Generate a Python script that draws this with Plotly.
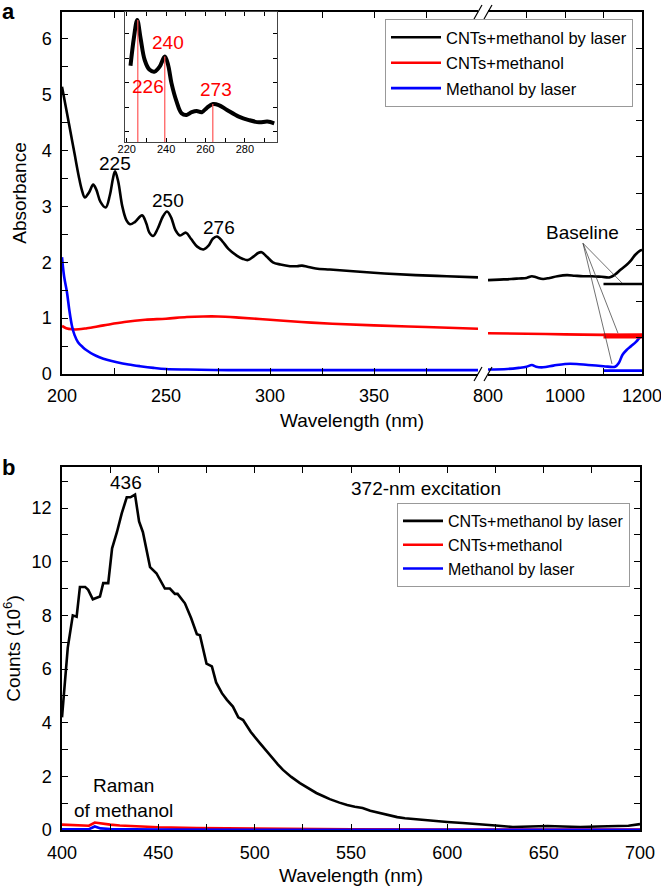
import plotly.graph_objects as go

# ---- panel a: absorbance, 200-400 nm part
a_wl_laser = [200, 202, 204, 206, 208, 209.5, 211, 213, 215, 216.5, 218.5, 221, 223, 224.5, 225.5, 227,
              229, 231, 232.7, 235, 238.5, 240.5, 242, 243.8, 246, 248.5, 250.5, 252.5, 254.5, 256.7,
              259.6, 262, 265, 268, 270.5, 272.5, 274.5, 277, 280, 284, 287, 289.4, 292, 294.5, 296,
              298.5, 301.4, 305, 309.6, 313, 315.4, 318, 322, 328.8, 340, 355, 370, 385, 400]
a_abs_laser = [5.14, 4.75, 4.35, 3.95, 3.55, 3.3, 3.16, 3.25, 3.39, 3.3, 3.08, 2.98, 3.2, 3.5, 3.63, 3.45,
               3.0, 2.75, 2.68, 2.72, 2.84, 2.7, 2.53, 2.47, 2.6, 2.82, 2.91, 2.8, 2.58, 2.48,
               2.53, 2.42, 2.28, 2.23, 2.3, 2.42, 2.46, 2.38, 2.24, 2.12, 2.06, 2.04, 2.1, 2.17, 2.18,
               2.1, 2.0, 1.96, 1.93, 1.93, 1.94, 1.92, 1.89, 1.87, 1.84, 1.80, 1.77, 1.75, 1.73]
a_wl_cnt = [200, 202, 205, 208, 212, 220, 230, 240, 250, 260, 268, 275, 285, 300, 315, 330, 350, 375, 400]
a_abs_cnt = [0.86, 0.82, 0.80, 0.80, 0.82, 0.87, 0.93, 0.97, 0.99, 1.02, 1.03, 1.03, 1.01, 0.97, 0.93,
             0.90, 0.87, 0.84, 0.81]
a_wl_meth = [200, 201, 202.4, 203.5, 204.8, 206, 207.7, 210, 212, 215, 218, 222, 226.4, 232, 237.5, 244,
             250, 260, 280, 300, 350, 400]
a_abs_meth = [2.09, 1.75, 1.46, 1.15, 0.86, 0.70, 0.57, 0.48, 0.42, 0.35, 0.30, 0.25, 0.21, 0.17, 0.14,
              0.11, 0.09, 0.08, 0.07, 0.07, 0.07, 0.07]

# ---- panel a: 800-1200 nm part
a_wl_laser_ir = [800, 830, 860, 880, 900, 914, 925, 943, 960, 980, 1005, 1025, 1047, 1070, 1095, 1117,
                 1130, 1145, 1161, 1172, 1182, 1195, 1200]
a_abs_laser_ir = [1.68, 1.69, 1.70, 1.71, 1.72, 1.75, 1.73, 1.70, 1.72, 1.75, 1.77, 1.76, 1.75, 1.75,
                  1.74, 1.73, 1.78, 1.87, 1.96, 2.04, 2.13, 2.21, 2.22]
a_wl_cnt_ir = [800, 900, 1000, 1100, 1200]
a_abs_cnt_ir = [0.73, 0.72, 0.71, 0.70, 0.70]
a_wl_meth_ir = [800, 850, 880, 900, 914, 925, 943, 970, 1000, 1030, 1060, 1100, 1130, 1140, 1149, 1160,
                1172, 1185, 1195, 1200]
a_abs_meth_ir = [0.08, 0.09, 0.11, 0.13, 0.16, 0.13, 0.12, 0.15, 0.18, 0.18, 0.16, 0.14, 0.13, 0.2,
                 0.34, 0.43, 0.5, 0.58, 0.66, 0.68]

# baselines
base_wl = [1100, 1200]
base_laser = [1.61, 1.61]
base_cnt = [0.68, 0.68]
base_meth = [0.06, 0.06]

# ---- inset
ins_wl = [221.9, 223.6, 225.3, 227, 229.1, 231.6, 234.2, 236.7, 239.3, 241, 242.7, 245.3, 247.8,
          250.4, 253, 255.5, 258.1, 260.7, 263.8, 266.7, 270.9, 276.9, 282, 287.2, 291.4, 294.9]
ins_abs = [3.69, 4.81, 5.55, 4.81, 3.92, 3.52, 3.45, 3.65, 4.06, 3.72, 2.98, 2.23, 1.76,
           1.69, 1.80, 1.85, 1.80, 1.98, 2.13, 2.09, 1.89, 1.62, 1.48, 1.39, 1.42, 1.35]
ins_peak_wl = [225.6, 239.3, 263.7]
ins_peak_abs = [5.55, 4.06, 2.13]
ins_labels = ["226", "240", "273"]
ins_label_x = [230.8, 240.7, 265.5]
ins_label_y = [2.84, 4.64, 2.74]

# ---- panel b: PL
b_wl_laser = [400, 403, 405.6, 407.6, 409.3, 412, 413.6, 416, 419.7, 421.4, 424, 426, 428.5, 431,
              433.6, 435.5, 437.9, 440, 442, 445.7, 449, 453.4, 456, 458.6, 460, 463.8, 467, 470,
              471.6, 473, 475, 477.8, 480, 483, 485.6, 488.7, 491.5, 494, 498, 502.7, 506, 509.5,
              512, 514.7, 519, 523.5, 528, 532, 536, 539, 544, 548, 552, 556, 560, 565, 570, 574,
              578, 582, 590, 600, 608, 617, 625, 634, 643, 652, 660, 669, 678, 686, 694, 700]
b_cnt_laser = [4.2, 6.8, 8.0, 7.95, 9.06, 9.06, 8.95, 8.6, 8.7, 9.2, 9.2, 10.5, 11.1, 11.8,
               12.4, 12.4, 12.5, 11.5, 11.1, 9.8, 9.57, 9.0, 9.0, 8.8, 8.8, 8.45, 7.9, 7.3,
               7.26, 6.8, 6.2, 6.1, 5.5, 5.1, 4.85, 4.6, 4.2, 4.1, 3.65, 3.24, 2.95, 2.68,
               2.45, 2.24, 1.98, 1.75, 1.55, 1.38, 1.25, 1.15, 1.02, 0.93, 0.87, 0.82, 0.72, 0.63, 0.55, 0.48,
               0.44, 0.41, 0.35, 0.3, 0.26, 0.22, 0.17, 0.11, 0.13, 0.15, 0.13, 0.11, 0.13, 0.15, 0.16, 0.22]
b_wl_cnt = [400, 405, 410, 414, 417, 420, 425, 430, 440, 450, 470, 500, 550, 600, 700]
b_cnt_cnt = [0.20, 0.19, 0.17, 0.16, 0.28, 0.24, 0.2, 0.17, 0.13, 0.1, 0.07, 0.05, 0.03, 0.02, 0.02]
b_wl_meth = [400, 410, 414, 417, 420, 425, 450, 500, 700]
b_cnt_meth = [0.03, 0.03, 0.03, 0.13, 0.06, 0.04, 0.02, 0.01, 0.01]

names = ["CNTs+methanol by laser", "CNTs+methanol", "Methanol by laser"]
colors = ["black", "#ff0000", "#0000ff"]

W, H = 661, 886
def px(x):
    return x / W
def py(y):
    return 1 - y / H

FONT = "Liberation Sans, Arial, Helvetica, sans-serif"
fig = go.Figure()

# panel a traces (smooth spectra)
for i, (x, y) in enumerate([(a_wl_laser, a_abs_laser), (a_wl_cnt, a_abs_cnt), (a_wl_meth, a_abs_meth)]):
    fig.add_trace(go.Scatter(x=x, y=y, mode="lines", name=names[i], line=dict(color=colors[i], width=2.6),
                             line_shape="spline", xaxis="x", yaxis="y", legend="legend",
                             legendgroup="a%d" % i))
for i, (x, y) in enumerate([(a_wl_laser_ir, a_abs_laser_ir), (a_wl_cnt_ir, a_abs_cnt_ir),
                            (a_wl_meth_ir, a_abs_meth_ir)]):
    fig.add_trace(go.Scatter(x=x, y=y, mode="lines", showlegend=False, line=dict(color=colors[i], width=2.6),
                             line_shape="spline", xaxis="x2", yaxis="y"))
for i, (y, w) in enumerate([(base_laser, 2.6), (base_cnt, 5), (base_meth, 2.6)]):
    fig.add_trace(go.Scatter(x=base_wl, y=y, mode="lines", showlegend=False, line=dict(color=colors[i], width=w),
                             xaxis="x2", yaxis="y"))
# empty trace so the right-hand frame axis is drawn
fig.add_trace(go.Scatter(x=[], y=[], showlegend=False, xaxis="x2", yaxis="y2"))

# inset
fig.add_trace(go.Scatter(x=ins_wl, y=ins_abs, mode="lines", showlegend=False, line=dict(color="black", width=4),
                         line_shape="spline", xaxis="x3", yaxis="y3"))

# panel b traces
for i, (x, y) in enumerate([(b_wl_laser, b_cnt_laser), (b_wl_cnt, b_cnt_cnt), (b_wl_meth, b_cnt_meth)]):
    fig.add_trace(go.Scatter(x=x, y=y, mode="lines", name=names[i], line=dict(color=colors[i], width=2.6),
                             xaxis="x4", yaxis="y4", legend="legend2", legendgroup="b%d" % i))

tickfont = dict(size=18, color="black", family=FONT)
base_ax = dict(showline=True, linecolor="black", linewidth=1.5, ticks="inside", ticklen=6, tickwidth=1.2,
               tickcolor="black", showgrid=False, zeroline=False, tickfont=tickfont, automargin=False,
               ticklabeloverflow="allow")
minor = dict(ticks="inside", ticklen=6, tickwidth=1.2, tickcolor="black", showgrid=False)

ya_dom = [py(374), py(12)]
fig.update_layout(
    xaxis=dict(base_ax, domain=[px(62), px(478)], range=[200, 400], anchor="y", mirror="ticks",
               tickvals=[200, 250, 300, 350], minor=dict(minor, tickvals=[225, 275, 325, 375]),
               ticklabelstandoff=5),
    xaxis2=dict(base_ax, domain=[px(488), px(642)], range=[800, 1200], anchor="y", mirror="ticks",
                tickvals=[800, 1000, 1200], minor=dict(minor, tickvals=[900, 1100]), ticklabelstandoff=5),
    yaxis=dict(base_ax, domain=ya_dom, range=[0, 6.48], anchor="x", tickvals=[0, 1, 2, 3, 4, 5, 6],
               minor=dict(minor, dtick=0.5, tick0=0), ticklabelstandoff=5,
               title=dict(text="Absorbance", font=dict(size=19, color="black", family=FONT), standoff=10)),
    yaxis2=dict(base_ax, domain=ya_dom, range=[0, 5], anchor="x2", overlaying="y", side="right",
                dtick=0.5, showticklabels=False),
    xaxis3=dict(base_ax, domain=[px(125), px(277)], range=[219.1, 296.3], anchor="y3", mirror="ticks",
                linewidth=1, linecolor="#444", ticklen=4, tickwidth=1, tickvals=[220, 240, 260, 280],
                minor=dict(minor, dtick=10, ticklen=4, tickwidth=1), ticklabelstandoff=-3,
                tickfont=dict(size=11, color="black", family=FONT)),
    yaxis3=dict(base_ax, domain=[py(142), py(12)], range=[0.59, 5.87], anchor="x3", mirror="ticks",
                linewidth=1, linecolor="#444", ticklen=4, tickwidth=1, tickvals=[1, 2, 3, 4, 5],
                showticklabels=False),
    xaxis4=dict(base_ax, domain=[px(62), px(640)], range=[400, 700], anchor="y4", mirror="ticks",
                tickvals=[400, 450, 500, 550, 600, 650, 700], minor=dict(minor, dtick=25, tick0=400),
                ticklabelstandoff=6,
                title=dict(text="Wavelength (nm)", font=dict(size=19, color="black", family=FONT), standoff=8)),
    yaxis4=dict(base_ax, domain=[py(830), py(467)], range=[0, 13.53], anchor="x4", mirror="ticks",
                tickvals=[0, 2, 4, 6, 8, 10, 12], minor=dict(minor, dtick=1, tick0=0), ticklabelstandoff=5,
                title=dict(text="Counts (10<sup>6</sup>)", font=dict(size=19, color="black", family=FONT),
                           standoff=10)),
    legend=dict(x=px(633), xanchor="right", y=py(19), yanchor="top", bgcolor="white", bordercolor="#999",
                borderwidth=1, font=dict(size=16.5, color="black", family=FONT), itemwidth=50,
                tracegroupgap=1),
    legend2=dict(x=px(630), xanchor="right", y=py(503), yanchor="top", bgcolor="white", bordercolor="#999",
                 borderwidth=1, font=dict(size=16, color="black", family=FONT), itemwidth=40,
                 tracegroupgap=0),
    width=W, height=H, margin=dict(l=0, r=0, t=0, b=0, autoexpand=False),
    paper_bgcolor="white", plot_bgcolor="white",
    font=dict(family=FONT, color="black"),
)

ann_font = dict(size=19, color="black", family=FONT)
annotations = [
    dict(text="<b>a</b>", x=0, y=1, xref="paper", yref="paper", xanchor="left", yanchor="top",
         showarrow=False, font=dict(size=22, color="black", family=FONT), yshift=3),
    dict(text="<b>b</b>", x=0, y=py(453), xref="paper", yref="paper", xanchor="left", yanchor="top",
         showarrow=False, font=dict(size=22, color="black", family=FONT)),
    dict(text="Wavelength (nm)", x=px(352), y=py(420), xref="paper", yref="paper", showarrow=False,
         font=ann_font),
    dict(text="225", x=225.5, y=3.63, xref="x", yref="y", yanchor="bottom", yshift=-5, showarrow=False,
         font=ann_font),
    dict(text="250", x=251, y=2.91, xref="x", yref="y", yanchor="bottom", yshift=-2, showarrow=False,
         font=ann_font),
    dict(text="276", x=275.5, y=2.46, xref="x", yref="y", yanchor="bottom", yshift=-3, showarrow=False,
         font=ann_font),
    dict(text="Baseline", x=1046.7, y=2.54, xref="x2", yref="y", showarrow=False, font=ann_font),
    dict(text="436", x=433, y=12.5, xref="x4", yref="y4", yanchor="bottom", showarrow=False, font=ann_font),
    dict(text="Raman<br>of methanol", x=432, y=1.2, xref="x4", yref="y4", showarrow=False, font=ann_font),
    dict(text="372-nm excitation", x=px(503), y=py(488), xref="paper", yref="paper", showarrow=False,
         font=ann_font),
]
for t, x, y in zip(ins_labels, ins_label_x, ins_label_y):
    annotations.append(dict(text=t, x=x, y=y, xref="x3", yref="y3", showarrow=False,
                            font=dict(size=19, color="#ff0000", family=FONT)))
fig.update_layout(annotations=annotations)

shapes = []
# inset peak markers
for x, y in zip(ins_peak_wl, ins_peak_abs):
    shapes.append(dict(type="line", xref="x3", yref="y3", x0=x, x1=x, y0=0.59, y1=y,
                       line=dict(color="#ff5555", width=1.2)))
# baseline pointers
for x1, y1 in [(1148, 1.63), (1137.6, 0.73), (1122, 0.18)]:
    shapes.append(dict(type="line", xref="x2", yref="y", x0=1046.7, y0=2.34, x1=x1, y1=y1,
                       line=dict(color="#333", width=0.7)))
# axis break marks
for yc in (12, 374):
    for xc in (478, 488):
        shapes.append(dict(type="line", xref="paper", yref="paper", x0=px(xc - 4), y0=py(yc + 7),
                           x1=px(xc + 4), y1=py(yc - 7), line=dict(color="black", width=1.2)))
fig.update_layout(shapes=shapes)

fig.write_html("out.html", config={"displayModeBar": False},
               post_script="document.body.style.margin='0';document.body.style.overflow='hidden';")
